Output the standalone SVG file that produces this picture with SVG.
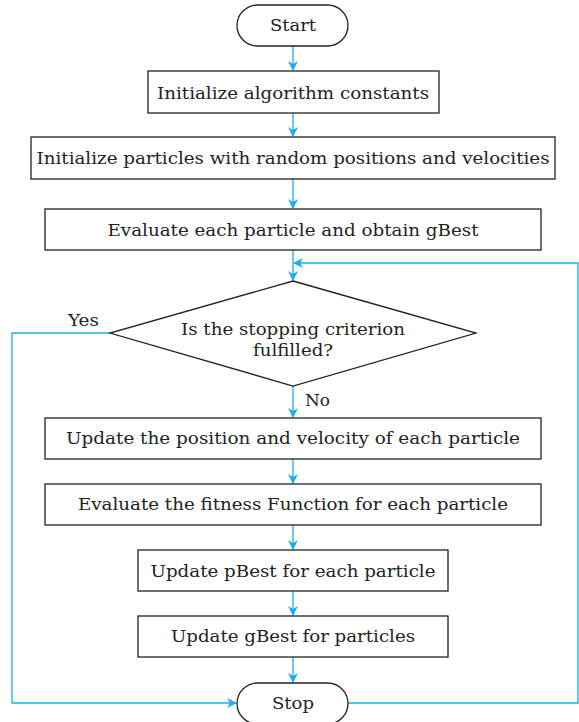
<svg xmlns="http://www.w3.org/2000/svg" width="579" height="722" viewBox="0 0 579 722">
<style>
.n{fill:#fff;stroke:#222;stroke-width:1.3}
.t{font-family:"DejaVu Serif","Liberation Serif",serif;font-size:16px;fill:#222;text-anchor:middle}
.l{font-family:"DejaVu Serif","Liberation Serif",serif;font-size:16px;fill:#222}
.c{fill:none;stroke:#1aaeea;stroke-width:1.3}
</style>
<defs>
<marker id="a" viewBox="0 0 10 10" refX="9" refY="5" markerWidth="10" markerHeight="10" markerUnits="userSpaceOnUse" orient="auto">
<path d="M0,0 L10,5 L0,10 L3,5 Z" fill="#1aaeea"/>
</marker>
</defs>
<g id="connectors">
<path class="c" d="M293,46 V70" marker-end="url(#a)"/>
<path class="c" d="M293,113 V136" marker-end="url(#a)"/>
<path class="c" d="M293,179 V208" marker-end="url(#a)"/>
<path class="c" d="M293,250 V280" marker-end="url(#a)"/>
<path class="c" d="M293,386 V417" marker-end="url(#a)"/>
<path class="c" d="M293,459 V483" marker-end="url(#a)"/>
<path class="c" d="M293,525 V549" marker-end="url(#a)"/>
<path class="c" d="M293,591 V615" marker-end="url(#a)"/>
<path class="c" d="M293,657 V682" marker-end="url(#a)"/>
<path class="c" d="M110,333 H12 V703 H236" marker-end="url(#a)"/>
<path class="c" d="M348,703 H578 V263 H294" marker-end="url(#a)"/>
<text class="l" x="68" y="326" textLength="31" lengthAdjust="spacingAndGlyphs">Yes</text>
<text class="l" x="305" y="406" textLength="25" lengthAdjust="spacingAndGlyphs">No</text>
</g>
<g id="start">
<rect class="n" x="237" y="5" width="111" height="41" rx="20.5"/>
<text class="t" x="293" y="31" textLength="46" lengthAdjust="spacingAndGlyphs">Start</text>
</g>
<g id="init-constants">
<rect class="n" x="148" y="71" width="291" height="42"/>
<text class="t" x="293" y="99" textLength="272" lengthAdjust="spacingAndGlyphs">Initialize algorithm constants</text>
</g>
<g id="init-particles">
<rect class="n" x="31" y="137" width="524" height="42"/>
<text class="t" x="293" y="164" textLength="513" lengthAdjust="spacingAndGlyphs">Initialize particles with random positions and velocities</text>
</g>
<g id="evaluate-gbest">
<rect class="n" x="45" y="209" width="496" height="41"/>
<text class="t" x="293" y="236" textLength="371" lengthAdjust="spacingAndGlyphs">Evaluate each particle and obtain gBest</text>
</g>
<g id="decision">
<polygon class="n" points="293,281 476,333 293,386 110,333"/>
<text class="t" x="293" y="335" textLength="224" lengthAdjust="spacingAndGlyphs">Is the stopping criterion</text>
<text class="t" x="293" y="356" textLength="80" lengthAdjust="spacingAndGlyphs">fulfilled?</text>
</g>
<g id="update-pos">
<rect class="n" x="45" y="418" width="496" height="41"/>
<text class="t" x="293" y="444" textLength="454" lengthAdjust="spacingAndGlyphs">Update the position and velocity of each particle</text>
</g>
<g id="evaluate-fitness">
<rect class="n" x="45" y="484" width="496" height="41"/>
<text class="t" x="293" y="510" textLength="430" lengthAdjust="spacingAndGlyphs">Evaluate the fitness Function for each particle</text>
</g>
<g id="update-pbest">
<rect class="n" x="138" y="550" width="310" height="41"/>
<text class="t" x="293" y="577" textLength="285" lengthAdjust="spacingAndGlyphs">Update pBest for each particle</text>
</g>
<g id="update-gbest">
<rect class="n" x="138" y="616" width="310" height="41"/>
<text class="t" x="293" y="642" textLength="244" lengthAdjust="spacingAndGlyphs">Update gBest for particles</text>
</g>
<g id="stop">
<rect class="n" x="237" y="683" width="111" height="41" rx="20.5"/>
<text class="t" x="293" y="709" textLength="42" lengthAdjust="spacingAndGlyphs">Stop</text>
</g>
</svg>
